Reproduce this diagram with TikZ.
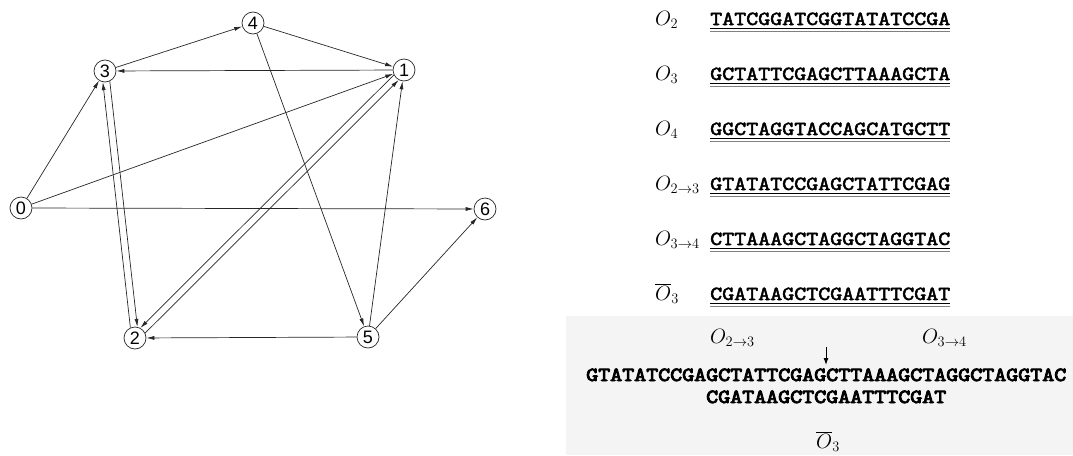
\documentclass[tikz,border=0pt]{standalone}
\usepackage{fontspec}
\setmainfont{Liberation Serif}
\setsansfont{Liberation Sans}
\newfontfamily\seqfont[FakeStretch=1.143,FakeBold=2.5]{lmmono10-regular.otf}
\newfontfamily\seqfontpesada[FakeStretch=1.143,FakeBold=4.5]{lmmono10-regular.otf}
\usetikzlibrary{arrows.meta,positioning}

\begin{document}
\begin{tikzpicture}[
    x=1pt, y=-1pt,
    % Vértices do grafo
    vertice/.style={circle, draw=black!85, line width=0.7pt, minimum size=22pt,
        inner sep=0pt, font=\sffamily\fontsize{18}{18}\selectfont},
    % Arestas orientadas
    aresta/.style={->, >={Latex[length=8pt,width=4pt]}, line width=0.7pt, draw=black!85},
    % Sequências de DNA e rótulos
    seq/.style={anchor=base west, inner sep=0pt, font=\seqfont\fontsize{20}{20}\selectfont},
    seqpesada/.style={anchor=base west, inner sep=0pt, font=\seqfontpesada\fontsize{20}{20}\selectfont},
    rotulo/.style={anchor=base west, inner sep=0pt, font=\fontsize{21}{21}\selectfont},
    sublinha/.style={line width=1.5pt, black},
    sublinha2/.style={line width=0.6pt, gray}
]
    \useasboundingbox (0,0) rectangle (1073,455);

    % ==========================================
    % 1. GRAFO (vértices)
    % ==========================================
    \node[vertice] (v0) at (21,208)  {0};
    \node[vertice] (v3) at (105,71)  {3};
    \node[vertice] (v4) at (253,23)  {4};
    \node[vertice] (v1) at (404,70)  {1};
    \node[vertice] (v6) at (485,209) {6};
    \node[vertice] (v2) at (135,338) {2};
    \node[vertice] (v5) at (368,337) {5};

    % ==========================================
    % 2. ARESTAS
    % ==========================================
    \draw[aresta] (v0) -- (v3);
    \draw[aresta] (v0) -- (v1);
    \draw[aresta] (v0) -- (v6);
    \draw[aresta] (v3) -- (v4);
    \draw[aresta] (v4) -- (v1);
    \draw[aresta] (v1) -- (v3);
    \draw[aresta] (v4) -- (v5);
    \draw[aresta] (v5) -- (v1);
    \draw[aresta] (v5) -- (v6);
    \draw[aresta] (v5) -- (v2);
    % Pares paralelos (ida e volta)
    \draw[aresta] (v3.-65.8) -- (v2.78.2);    % 3 -> 2
    \draw[aresta] (v2.114.2) -- (v3.-101.8);  % 2 -> 3
    \draw[aresta] (v2.26.8)  -- (v1.242.8);   % 2 -> 1
    \draw[aresta] (v1.206.8) -- (v2.62.8);    % 1 -> 2

    % ==========================================
    % 3. OLIGONUCLEOTÍDEOS
    % ==========================================
    \node[rotulo] (lO2) at (655,25)  {$O_2$};
    \node[seq]    (sO2) at (710,25)  {TATCGGATCGGTATATCCGA};
    \node[rotulo] (lO3) at (655,80)  {$O_3$};
    \node[seq]    (sO3) at (710,80)  {GCTATTCGAGCTTAAAGCTA};
    \node[rotulo] (lO4) at (655,135) {$O_4$};
    \node[seq]    (sO4) at (710,135) {GGCTAGGTACCAGCATGCTT};
    \node[rotulo] (lO23) at (655,190) {$O_{2\to3}$};
    \node[seq]    (sO23) at (710,190) {GTATATCCGAGCTATTCGAG};
    \node[rotulo] (lO34) at (655,245) {$O_{3\to4}$};
    \node[seq]    (sO34) at (710,245) {CTTAAAGCTAGGCTAGGTAC};
    \node[rotulo] (lO3b) at (655,300) {$\overline{O}_3$};
    \node[seq]    (sO3b) at (710,300) {CGATAAGCTCGAATTTCGAT};
    % Sublinhados duplos
    \foreach \s in {sO2,sO3,sO4,sO23,sO34,sO3b} {
        \draw[sublinha]  ([yshift=-3.5pt]\s.base west) -- ([yshift=-3.5pt]\s.base east);
        \draw[sublinha2] ([yshift=-6.5pt]\s.base west) -- ([yshift=-6.5pt]\s.base east);
    }

    % ==========================================
    % 4. LIGAÇÃO (fundo cinza)
    % ==========================================
    \fill[gray!9] (566,316) rectangle (1073,455);
    \node[rotulo] (bO23) at (710,343) {$O_{2\to3}$};
    \node[rotulo] (bO34) at (922,343) {$O_{3\to4}$};
    \node[seqpesada] (longa) at (586,381) {GTATATCCGAGCTATTCGAGCTTAAAGCTAGGCTAGGTAC};
    \node[seqpesada] (compl) at (706,403) {CGATAAGCTCGAATTTCGAT};
    \node[rotulo] (bO3b) at (816,448) {$\overline{O}_3$};
    \coordinate (seta1) at (826,347);
    \coordinate (seta2) at (826,365);
    \draw[->, >={Latex[length=7pt,width=5pt]}, line width=1pt] (seta1) -- (seta2);

\end{tikzpicture}
\end{document}
